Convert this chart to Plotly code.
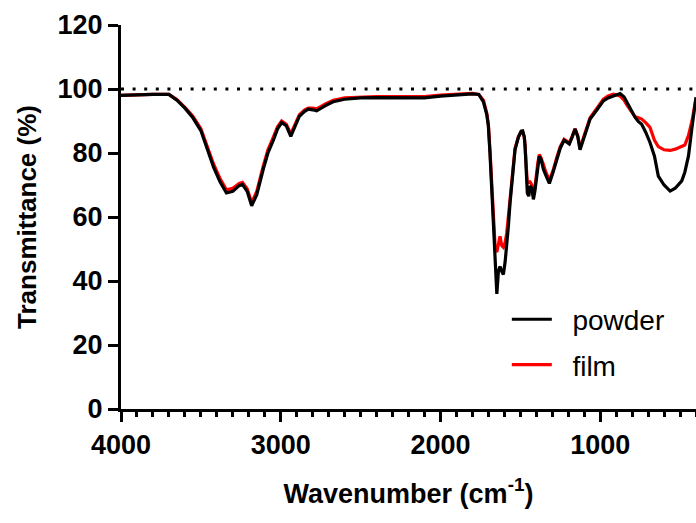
import plotly.graph_objects as go

wavenumber = [4000, 3900, 3800, 3700, 3650, 3600, 3550, 3500, 3460, 3420, 3380, 3340, 3300, 3260,
              3240, 3210, 3182, 3150, 3109, 3080, 3046, 3020, 2994, 2965, 2937, 2910, 2883, 2850,
              2827, 2800, 2775, 2720, 2671, 2600, 2500, 2400, 2300, 2200, 2100, 2000, 1900, 1800,
              1760, 1731, 1710, 1700, 1690, 1679, 1668, 1658, 1647, 1637, 1627, 1616, 1606, 1595,
              1585, 1575, 1564, 1550, 1533, 1512, 1495, 1485, 1475, 1470, 1462, 1456, 1447, 1439,
              1428, 1418, 1409, 1401, 1390, 1381, 1370, 1356, 1340, 1318, 1295, 1272, 1250, 1226,
              1210, 1193, 1175, 1157, 1140, 1126, 1100, 1063, 1020, 980, 950, 917, 875, 850, 833,
              800, 781, 760, 740, 715, 688, 660, 636, 600, 562, 530, 489, 470, 447, 425, 400]

powder = [98.0, 98.2, 98.3, 98.3, 96.5, 94.0, 91.0, 87.0, 81.0, 75.5, 71.0, 67.5, 68.0, 69.8,
          70.2, 68.0, 63.5, 67.0, 75.0, 80.0, 84.0, 87.5, 89.5, 88.5, 85.2, 88.5, 91.5, 93.0,
          93.7, 93.5, 93.2, 94.8, 96.0, 96.8, 97.2, 97.3, 97.3, 97.3, 97.2, 97.8, 98.2, 98.5,
          98.3, 96.0, 92.0, 88.5, 80.0, 68.0, 57.0, 46.0, 36.0, 43.0, 44.5, 43.0, 42.0, 46.0,
          51.0, 57.0, 64.5, 73.0, 81.0, 85.0, 86.8, 86.9, 85.0, 82.0, 75.0, 67.5, 66.5, 69.7,
          69.0, 65.5, 68.0, 71.8, 76.5, 79.0, 78.0, 75.0, 73.0, 70.5, 74.0, 78.0, 81.5, 84.0,
          83.5, 82.8, 85.0, 87.5, 85.0, 81.0, 85.0, 90.6, 93.5, 96.3, 97.2, 97.9, 98.6, 97.5,
          95.8, 93.0, 91.1, 89.8, 89.0, 86.5, 83.3, 79.0, 72.8, 70.0, 68.1, 69.0, 71.3, 74.0,
          79.1, 88.0, 97.4]

film = [98.0, 98.2, 98.3, 98.3, 96.7, 94.3, 91.5, 87.6, 82.0, 76.5, 72.0, 68.5, 69.0, 70.5,
        70.8, 68.8, 64.5, 68.0, 76.0, 81.0, 85.0, 88.2, 90.0, 89.0, 86.0, 89.0, 92.0, 93.5,
        94.0, 94.0, 93.8, 95.3, 96.5, 97.2, 97.5, 97.6, 97.6, 97.6, 97.6, 98.1, 98.4, 98.6,
        98.3, 96.5, 92.5, 89.0, 81.0, 70.0, 60.0, 51.0, 49.0, 52.0, 54.0, 51.0, 50.5, 52.0,
        55.0, 60.0, 66.0, 74.0, 81.5, 85.0, 86.5, 86.5, 85.0, 82.0, 76.0, 70.5, 71.0, 71.0,
        70.0, 67.0, 69.0, 73.0, 77.0, 79.5, 78.5, 76.5, 74.0, 71.5, 74.5, 78.5, 82.0, 84.3,
        83.8, 83.2, 85.3, 87.6, 85.3, 81.5, 85.5, 91.0, 94.0, 96.8, 97.8, 98.4, 97.8, 96.5,
        95.0, 92.5, 91.3, 91.0, 90.6, 89.5, 88.0, 84.0, 82.0, 81.0, 80.8, 81.2, 82.0, 82.5,
        85.5, 90.0, 97.0]

x_ticks = [4000, 3000, 2000, 1000]
y_ticks = [0, 20, 40, 60, 80, 100, 120]
reference_level = 100

FONT = "Liberation Sans, Arial, sans-serif"
NB = "\u00a0\u00a0"

fig = go.Figure()
fig.add_trace(go.Scatter(x=wavenumber, y=film, mode="lines", name=NB + "film",
                         legendgroup="film",
                         line=dict(color="#FF0000", width=3.2), legendrank=2))
fig.add_trace(go.Scatter(x=wavenumber, y=powder, mode="lines", name=NB + "powder",
                         legendgroup="powder",
                         line=dict(color="#000000", width=3.2), legendrank=1))

fig.add_shape(type="line", xref="x", yref="y", x0=4000, x1=400,
              y0=reference_level, y1=reference_level,
              line=dict(color="black", width=3, dash="3px,8.6px"), layer="below")

fig.update_layout(
    width=696, height=523,
    margin=dict(l=121, r=0, t=25, b=114),
    paper_bgcolor="white", plot_bgcolor="white",
    font=dict(family=FONT, color="black"),
    showlegend=True,
    legend=dict(x=0.671, y=0.298, xanchor="left", yanchor="top",
                font=dict(size=28, family=FONT, color="black"),
                bgcolor="rgba(0,0,0,0)", traceorder="grouped",
                itemwidth=40, tracegroupgap=6),
    xaxis=dict(range=[4000, 400], tickvals=x_ticks, ticks="outside", ticklen=10,
               tickwidth=3, tickcolor="black", showline=True, linewidth=3,
               linecolor="black", showgrid=False, zeroline=False, automargin=False,
               tickfont=dict(size=27, family=FONT, weight="bold"),
               minor=dict(dtick=100, ticks="outside", ticklen=5, tickwidth=3,
                          tickcolor="black", showgrid=False),
               title=dict(text="Wavenumber (cm<sup>-1</sup>)",
                          font=dict(size=27, family=FONT, weight="bold"), standoff=25)),
    yaxis=dict(range=[0, 120], tickvals=y_ticks, ticks="outside", ticklen=10,
               tickwidth=3, tickcolor="black", showline=True, linewidth=3,
               linecolor="black", showgrid=False, zeroline=False, automargin=False,
               tickfont=dict(size=27, family=FONT, weight="bold"),
               title=dict(text="Transmittance (%)",
                          font=dict(size=26, family=FONT, weight="bold"), standoff=14)),
)

fig.write_html("out.html", config={"displayModeBar": False},
               post_script="document.body.style.margin='0px';document.body.style.overflow='hidden';")
